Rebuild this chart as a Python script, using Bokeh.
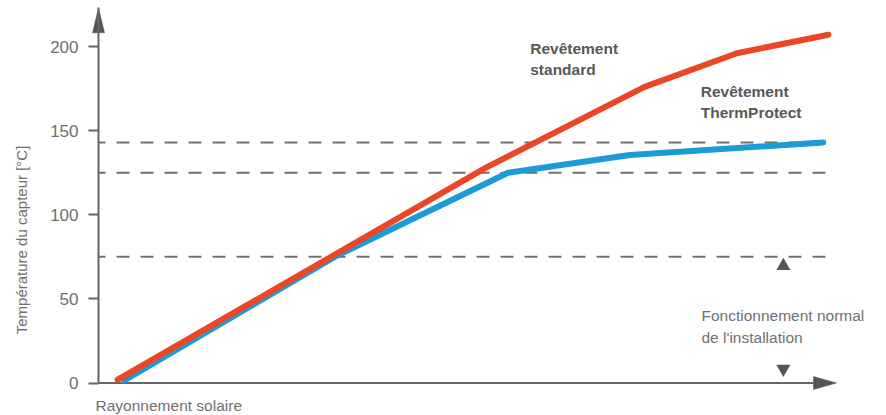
import numpy as np
from bokeh.plotting import figure
from bokeh.models import Range1d, FixedTicker
from bokeh.core.properties import value
from bokeh.embed import file_html
from bokeh.resources import INLINE

# ---------------- data ----------------
rad_standard = [2.6, 52.5, 74.0, 86.5, 98.9]
temp_standard = [2.0, 128.0, 176.0, 196.0, 207.0]

rad_thermprotect = [3.5, 32.0, 55.5, 72.0, 98.2]
temp_thermprotect = [1.5, 75.0, 125.0, 135.5, 143.0]

threshold_temps = [143.0, 125.0, 75.0]
threshold_end = 98.5

y_ticks = [0, 50, 100, 150, 200]
y_title = "Température du capteur [°C]"
x_title = "Rayonnement solaire"

label_standard = ["Revêtement", "standard"]
label_standard_x = [58.5, 58.5]
label_standard_y = [199.1, 186.1]

label_thermprotect = ["Revêtement", "ThermProtect"]
label_thermprotect_x = [81.6, 81.6]
label_thermprotect_y = [173.0, 160.5]

label_normal = ["Fonctionnement normal", "de l'installation"]
label_normal_x = [81.7, 81.7]
label_normal_y = [39.9, 27.3]

normal_up_x, normal_up_y = [92.8], [69.6]
normal_down_x, normal_down_y = [92.8], [8.4]

# ---------------- layout / style ----------------
W, H = 886, 415
PX_PER_X = 7.38        # pixels per x unit
PX_PER_Y = 1.6825      # pixels per y unit
FRAME_X0_PX = 98       # y-axis position inside the canvas
FRAME_Y0_PX = 382.5    # x-axis position (from top) inside the canvas

x_start = -FRAME_X0_PX / PX_PER_X
x_end = (W - FRAME_X0_PX) / PX_PER_X
y_end = FRAME_Y0_PX / PX_PER_Y
y_start = -(H - FRAME_Y0_PX) / PX_PER_Y

AXIS_X_END = 100.0
AXIS_Y_END = 223.0
HEAD_LEN_X, HEAD_HALF_X = 23, 6.5   # px
HEAD_LEN_Y, HEAD_HALF_Y = 25, 6.0   # px

RED = "#ec4626"
BLUE = "#1b9bd7"
AXIS_COL = "#666666"
DASH_COL = "#707070"
TEXT_COL = "#6f6f6f"
BOLD_COL = "#585858"
FONT = "Liberation Sans"

p = figure(width=W, height=H, x_range=Range1d(x_start, x_end),
           y_range=Range1d(y_start, y_end), output_backend="svg",
           toolbar_location=None, x_axis_location=None, y_axis_location="left",
           min_border=0)
p.outline_line_color = None
p.grid.visible = False
p.background_fill_color = "white"
p.border_fill_color = "white"

yax = p.yaxis[0]
yax.fixed_location = 0
yax.bounds = (0, AXIS_Y_END)
yax.ticker = FixedTicker(ticks=y_ticks)
yax.minor_tick_line_color = None
yax.major_tick_out = 10
yax.major_tick_in = 0
yax.major_tick_line_color = AXIS_COL
yax.major_tick_line_width = 2
yax.axis_line_color = AXIS_COL
yax.axis_line_width = 2
yax.major_label_standoff = 10
yax.major_label_text_font = FONT
yax.major_label_text_font_size = "17px"
yax.major_label_text_color = TEXT_COL

# x axis line + arrow heads
p.segment(x0=[0], y0=[0], x1=[AXIS_X_END - HEAD_LEN_X / PX_PER_X], y1=[0],
          line_color=AXIS_COL, line_width=2)
hx = HEAD_LEN_X / PX_PER_X
hy = HEAD_HALF_X / PX_PER_Y
p.patch([AXIS_X_END - hx, AXIS_X_END, AXIS_X_END - hx], [hy, 0, -hy],
        fill_color="#555555", line_color="#555555", line_width=0.5)
vy = HEAD_LEN_Y / PX_PER_Y
vx = HEAD_HALF_Y / PX_PER_X
p.patch([-vx, 0, vx], [AXIS_Y_END - vy, AXIS_Y_END, AXIS_Y_END - vy],
        fill_color="#555555", line_color="#555555", line_width=0.5)

# dashed thresholds
p.segment(x0=[0] * len(threshold_temps), y0=threshold_temps,
          x1=[threshold_end] * len(threshold_temps), y1=threshold_temps,
          line_color=DASH_COL, line_width=2, line_dash="13 11",
          line_dash_offset=6)

# series
p.line(rad_thermprotect, temp_thermprotect, line_color=BLUE, line_width=6,
       line_cap="round", line_join="round")
p.line(rad_standard, temp_standard, line_color=RED, line_width=6,
       line_cap="round", line_join="round")

# markers for normal operation range
p.scatter(normal_up_x, normal_up_y, marker="triangle", size=14,
          fill_color="#555555", line_color=None)
p.scatter(normal_down_x, normal_down_y, marker="inverted_triangle", size=14,
          fill_color="#555555", line_color=None)

# text labels
p.text(x=label_standard_x, y=label_standard_y, text=label_standard,
       text_font=value(FONT), text_font_size="15.5px", text_font_style="bold",
       text_color=BOLD_COL, text_align="left", text_baseline="alphabetic")
p.text(x=label_thermprotect_x, y=label_thermprotect_y, text=label_thermprotect,
       text_font=value(FONT), text_font_size="15.5px", text_font_style="bold",
       text_color=BOLD_COL, text_align="left", text_baseline="alphabetic")
p.text(x=label_normal_x, y=label_normal_y, text=label_normal,
       text_font=value(FONT), text_font_size="15.5px",
       text_color=TEXT_COL, text_align="left", text_baseline="alphabetic")

# axis titles
p.text(x=[-0.4], y=[-13.3], text=[x_title], text_font=value(FONT),
       text_font_size="15.5px", text_color=TEXT_COL, text_align="left",
       text_baseline="alphabetic")
p.text(x=[-10.4], y=[85.0], text=[y_title], text_font=value(FONT),
       text_font_size="15px", text_color=TEXT_COL, text_align="center",
       text_baseline="middle", angle=np.pi / 2)

open("out.html", "w").write(file_html(p, INLINE))
